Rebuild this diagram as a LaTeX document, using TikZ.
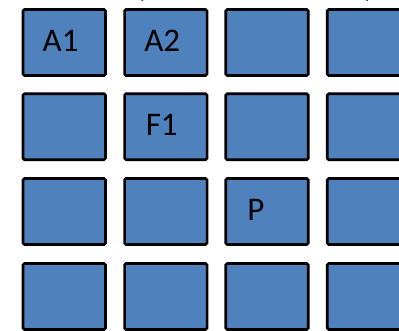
\documentclass[tikz,border=0pt]{standalone}
\usepackage{fontspec}
\setmainfont{Carlito}
\usetikzlibrary{calc}
\definecolor{cellblue}{HTML}{4F81BD}
\begin{document}
\begin{tikzpicture}[x=1pt,y=-1pt,
  cell/.style={draw=black, fill=cellblue, line width=2.6pt, rounded corners=1.5pt,
    minimum width=82.5pt, minimum height=66pt, inner sep=0pt, outer sep=0pt},
  lbl/.style={anchor=base west, inner sep=0pt, font=\fontsize{33}{40}\selectfont},
  paren/.style={anchor=base, inner sep=0pt, font=\fontsize{44}{50}\selectfont}]
\useasboundingbox (0,0) rectangle (399,330);
\clip (0,0) rectangle (399,330);
% parentheses fragments of a cropped title
\node[paren] (lp) at (140,-5) {(};
\node[paren] (rp) at (370,-4.5) {)};
% grid
\foreach \c/\x in {1/64.2,2/165.8,3/267,4/368.5}{
  \foreach \r/\y in {1/42.5,2/126.7,3/211.5,4/296.5}{
    \node[cell] (c\r\c) at (\x,\y) {};
  }
}
\node[lbl] (a1) at ($(c11.north west)+(19.5,42.2)$) {A1};
\node[lbl] (a2) at ($(c12.north west)+(19.5,42.2)$) {A2};
\node[lbl] (f1) at ($(c22.north west)+(21,42.2)$) {F1};
\node[lbl] (p) at ($(c33.north west)+(21.5,42.2)$) {P};
\end{tikzpicture}
\end{document}
